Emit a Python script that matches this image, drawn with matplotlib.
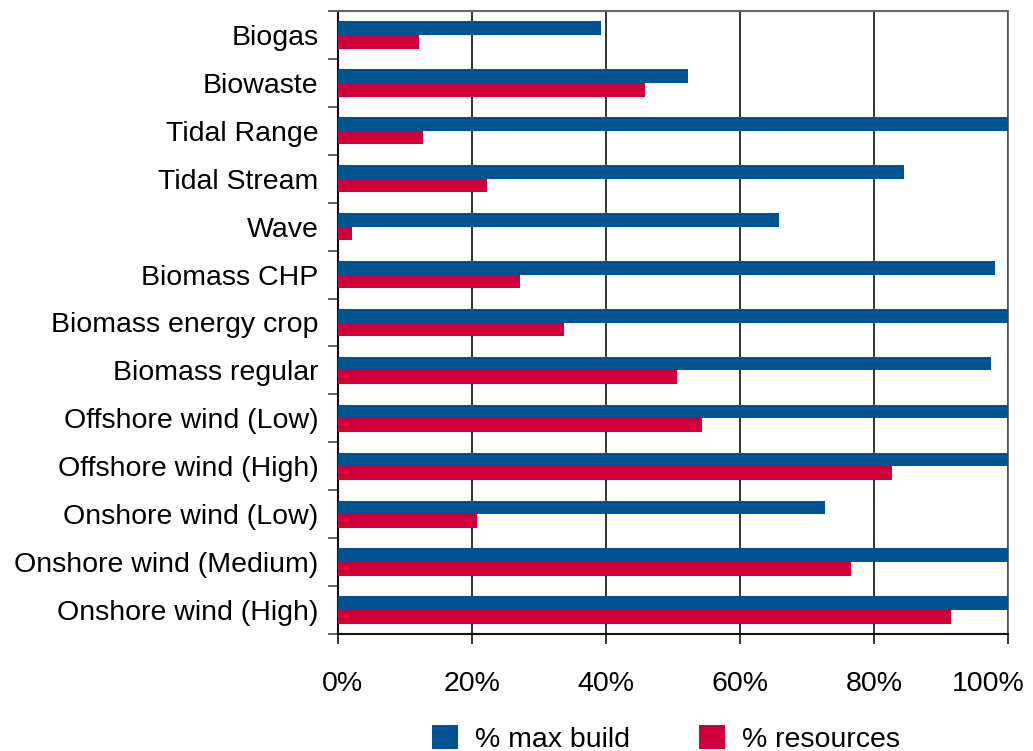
import matplotlib
matplotlib.use("Agg")
import matplotlib.pyplot as plt
import matplotlib.transforms as mtransforms
from matplotlib.patches import Patch
import numpy as np

categories = [
    "Biogas", "Biowaste", "Tidal Range", "Tidal Stream", "Wave",
    "Biomass CHP", "Biomass energy crop", "Biomass regular",
    "Offshore wind (Low)", "Offshore wind (High)", "Onshore wind (Low)",
    "Onshore wind (Medium)", "Onshore wind (High)",
]
max_build = [39.3, 52.2, 100, 84.5, 65.8, 98.1, 100, 97.5, 100, 100, 72.7, 100, 100]
resources = [12.1, 45.8, 12.7, 22.2, 2.1, 27.2, 33.7, 50.6, 54.3, 82.7, 20.7, 76.6, 91.5]
x_ticks = [0, 20, 40, 60, 80, 100]
x_tick_labels = ["0%", "20%", "40%", "60%", "80%", "100%"]
series_names = ["% max build", "% resources"]

BLUE = "#005393"
RED = "#CE003B"
FS = 20.5

plt.rcParams["font.family"] = ["Liberation Sans", "DejaVu Sans"]

fig = plt.figure(figsize=(10.33, 7.51), dpi=100)
ax = fig.add_axes([338 / 1033, 1 - 634 / 751, 670 / 1033, 623 / 751])

n = len(categories)
pos = np.arange(n)
h = 0.285
ax.barh(pos - h / 2, max_build, height=h, color=BLUE, zorder=3)
ax.barh(pos + h / 2, resources, height=h, color=RED, zorder=3)

ax.set_xlim(0, 100)
ax.set_ylim(n - 0.5, -0.5)

ax.set_xticks(x_ticks)
ax.set_xticklabels(x_tick_labels, fontsize=FS)
ax.tick_params(axis="x", direction="out", length=7.5, width=1.3, color="#222222",
               pad=19)

# keep the outer percentage labels inside the figure
xlabels = ax.get_xticklabels()
for lab, dx in ((xlabels[0], 3 / 72), (xlabels[-1], -14 / 72)):
    lab.set_transform(lab.get_transform()
                      + mtransforms.ScaledTranslation(dx, 0, fig.dpi_scale_trans))

ax.set_yticks(pos)
ax.set_yticklabels(categories, fontsize=FS)
ax.tick_params(axis="y", which="major", length=0, pad=14)
ax.set_yticks(np.arange(n + 1) - 0.5, minor=True)
ax.tick_params(axis="y", which="minor", direction="out", length=7.5, width=1.3,
               color="#555555")

ax.grid(axis="x", color="#111111", linewidth=1.2, zorder=1)
ax.set_axisbelow(True)

for side in ("left", "bottom"):
    ax.spines[side].set_color("#111111")
    ax.spines[side].set_linewidth(1.5)
ax.spines["top"].set_color("#666666")
ax.spines["top"].set_linewidth(1.5)
ax.spines["right"].set_color("#555555")
ax.spines["right"].set_linewidth(1.2)

handles = [Patch(facecolor=BLUE, edgecolor="none"), Patch(facecolor=RED, edgecolor="none")]
fig.legend(handles, series_names, loc="center", bbox_to_anchor=(0.6448, 0.0165),
           ncol=2, frameon=False, fontsize=FS, handlelength=0.92, handleheight=0.92,
           handletextpad=0.6, columnspacing=2.4, borderpad=0, borderaxespad=0)

fig.savefig("out.png", dpi=100)
